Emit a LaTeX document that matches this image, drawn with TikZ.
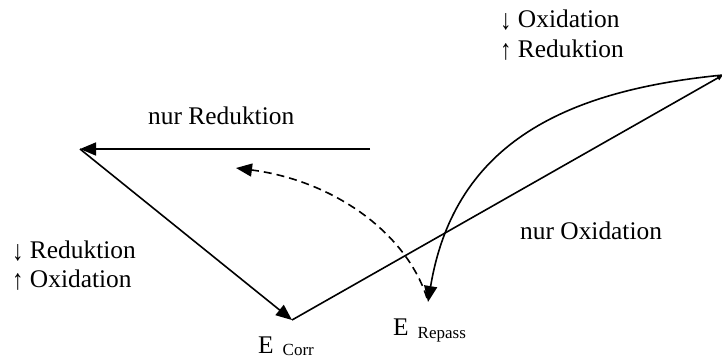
\documentclass[tikz,border=0pt]{standalone}
\usepackage{fontspec}
\setmainfont{Liberation Serif}
\usetikzlibrary{arrows.meta}
\newcommand{\dnarr}{\raisebox{-2pt}{\scalebox{0.9}[1.12]{↓}}}
\newcommand{\uparr}{\raisebox{-2pt}{\scalebox{0.9}[1.12]{↑}}}
\tikzset{
  conn/.style={line width=1.6pt, -{Triangle[length=16pt,width=13pt]}},
  smallconn/.style={line width=1.6pt, -{Triangle[length=6pt,width=5pt]}},
  dconn/.style={line width=1.6pt, dash pattern=on 8pt off 5pt, -{Triangle[length=16pt,width=13pt]}},
  lbl/.style={inner sep=0pt, anchor=base west, font=\fontsize{25.4}{30}\selectfont},
}
\begin{document}
\begin{tikzpicture}[x=1pt,y=-1pt]
\useasboundingbox (0,0) rectangle (722,360);
\coordinate (A) at (370,149);
\coordinate (B) at (80,149);
\coordinate (C) at (292,320);
\coordinate (D) at (723,75);
\coordinate (F) at (428,302);
\coordinate (H) at (427,298);
\coordinate (G) at (236,168);
\draw[conn] (A) -- (B);
\draw[conn] (B) -- (C);
\draw[smallconn] (C) -- (D);
\draw[conn] (D) .. controls (570,90) and (455,140) .. (F);
\draw[dconn] (H) .. controls (405,230) and (330,180) .. (G);
\node[lbl] (nr) at (148,124) {nur Reduktion};
\node[lbl] (no) at (520,239) {nur Oxidation};
\node[lbl] (t1) at (500,27) {\dnarr\ Oxidation};
\node[lbl] (t2) at (500,57) {\uparr\ Reduktion};
\node[lbl] (b1) at (12,258) {\dnarr\ Reduktion};
\node[lbl] (b2) at (12,287) {\uparr\ Oxidation};
\node[lbl] (ec) at (258,353) {E\hspace{9pt}\raisebox{-2pt}{\fontsize{17}{20}\selectfont Corr}};
\node[lbl] (er) at (393,335) {E\hspace{9pt}\raisebox{-3pt}{\fontsize{17}{20}\selectfont Repass}};
\end{tikzpicture}
\end{document}
